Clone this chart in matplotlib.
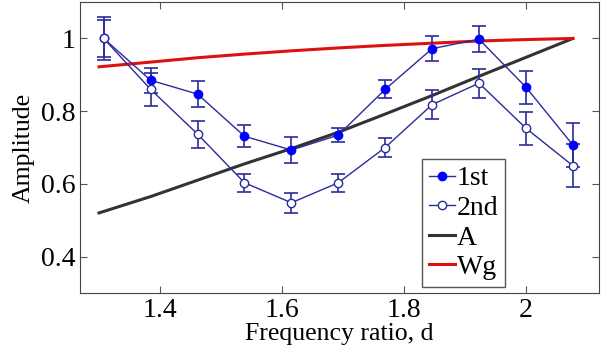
import matplotlib
matplotlib.use('Agg')
import matplotlib.pyplot as plt
from matplotlib.lines import Line2D
from matplotlib import font_manager

serif_path = font_manager.findfont(font_manager.FontProperties(family='Liberation Serif'))
font_manager.fontManager.addfont(serif_path)
serif_name = font_manager.FontProperties(fname=serif_path).get_name()
plt.rcParams['font.family'] = [serif_name, 'DejaVu Serif']

# frequency ratio of measured points
d = [1.3077, 1.3846, 1.4615, 1.5385, 1.6154, 1.6923, 1.7692, 1.8462, 1.9231, 2.0, 2.0769]
first = [1.0, 0.885, 0.847, 0.731, 0.693, 0.734, 0.86, 0.972, 0.998, 0.866, 0.707]
first_err = [0.06, 0.035, 0.035, 0.03, 0.037, 0.02, 0.025, 0.035, 0.035, 0.045, 0.06]
second = [1.0, 0.86, 0.737, 0.603, 0.548, 0.603, 0.70, 0.818, 0.877, 0.753, 0.65]
second_err = [0.05, 0.045, 0.037, 0.025, 0.028, 0.025, 0.025, 0.04, 0.04, 0.045, 0.06]

# curves
d_line = [1.30, 1.3846, 1.4615, 1.5385, 1.6154, 1.6923, 1.7692, 1.8462, 1.9231, 2.0, 2.0769]
A = [0.52, 0.565, 0.61, 0.655, 0.697, 0.742, 0.792, 0.843, 0.896, 0.948, 1.0]
Wg = [0.922, 0.935, 0.947, 0.957, 0.966, 0.974, 0.981, 0.987, 0.993, 0.997, 1.0]

fig = plt.figure(figsize=(6.07, 3.55), dpi=100)
ax = fig.add_axes([0.132, 0.175, 0.855, 0.819])

line_c = '#2b2b9c'
ax.errorbar(d, first, yerr=first_err, color=line_c, marker='o', markersize=6,
            markerfacecolor='#0000ff', markeredgecolor='#0000ff', lw=1,
            capsize=5, elinewidth=1.2, capthick=1.2, zorder=3)
ax.errorbar(d, second, yerr=second_err, color=line_c, marker='o', markersize=6,
            markerfacecolor='white', markeredgecolor=line_c, lw=1,
            capsize=5, elinewidth=1.2, capthick=1.2, zorder=3)
ax.plot(d_line, A, color='#333333', lw=2.2, zorder=2)
ax.plot(d_line, Wg, color='#dd1111', lw=2.2, zorder=2)

ax.set_xlim(1.269, 2.12)
ax.set_ylim(0.3, 1.1)
ax.set_xticks([1.4, 1.6, 1.8, 2.0])
ax.set_xticklabels(['1.4', '1.6', '1.8', '2'])
ax.set_yticks([0.4, 0.6, 0.8, 1.0])
ax.set_yticklabels(['0.4', '0.6', '0.8', '1'])
ax.tick_params(direction='in', top=True, right=True, labelsize=20, length=5, color='#555555')
for s in ax.spines.values():
    s.set_color('#444444')

ax.set_xlabel('Frequency ratio, d', fontsize=18.5, labelpad=0)
ax.set_ylabel('Amplitude', fontsize=18.5, labelpad=4)

handles = [
    Line2D([], [], color=line_c, marker='o', markersize=6, markerfacecolor='#0000ff',
           markeredgecolor='#0000ff', lw=1),
    Line2D([], [], color=line_c, marker='o', markersize=6, markerfacecolor='white',
           markeredgecolor=line_c, lw=1),
    Line2D([], [], color='#333333', lw=2.2),
    Line2D([], [], color='#dd1111', lw=2.2),
]
leg = ax.legend(handles, ['1st', '2nd', 'A', 'Wg'], loc='lower left',
                bbox_to_anchor=(0.659, 0.02), fontsize=20,
                handlelength=0.95, handletextpad=0.05, borderpad=0.25,
                labelspacing=0.15, fancybox=False, framealpha=1, borderaxespad=0)
leg.get_frame().set_edgecolor('#555555')

fig.savefig('out.png', dpi=100)
